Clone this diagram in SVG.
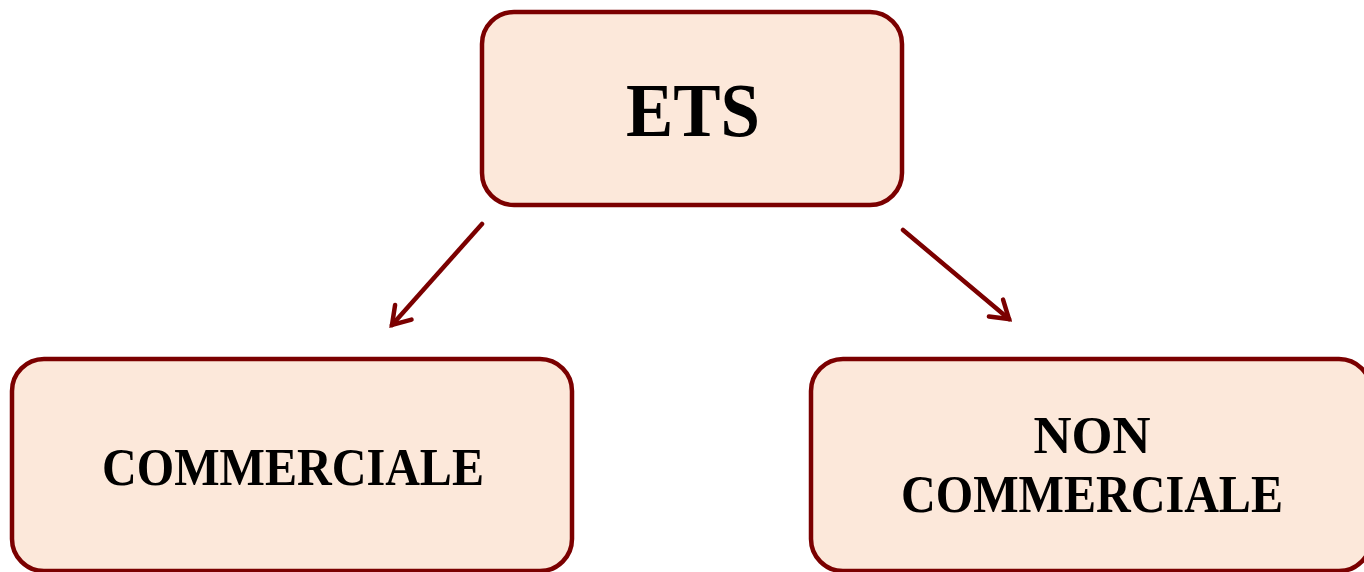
<svg xmlns="http://www.w3.org/2000/svg" width="1364" height="572" viewBox="0 0 1364 572">
<style>
.box{fill:#fce8da;stroke:#7b0000;stroke-width:4.5}
.lbl{font-family:"Liberation Serif","DejaVu Serif",serif;font-weight:bold;fill:#000;text-anchor:middle}
.conn{stroke:#7b0000;stroke-width:4.5;fill:none;stroke-linecap:round}
</style>
<defs>
<marker id="arr" markerUnits="userSpaceOnUse" viewBox="-20 -14 24 28" refX="0" refY="0" markerWidth="24" markerHeight="28" orient="auto">
<path d="M-17,-11 L0,0 L-17,11" fill="none" stroke="#7b0000" stroke-width="4.5" stroke-linecap="round" stroke-linejoin="miter"/>
</marker>
</defs>
<g id="connectors">
<line class="conn" x1="482" y1="224" x2="392" y2="325" marker-end="url(#arr)"/>
<line class="conn" x1="903" y1="230" x2="1009" y2="319" marker-end="url(#arr)"/>
</g>
<g id="node-ets">
<rect class="box" x="482" y="12" width="420" height="193" rx="32"/>
<text class="lbl" x="693" y="136" font-size="76" textLength="134" lengthAdjust="spacingAndGlyphs">ETS</text>
</g>
<g id="node-commerciale">
<rect class="box" x="12" y="359" width="560" height="212" rx="32"/>
<text class="lbl" x="293" y="485" font-size="52" textLength="382" lengthAdjust="spacingAndGlyphs">COMMERCIALE</text>
</g>
<g id="node-non-commerciale">
<rect class="box" x="811" y="359" width="560" height="212" rx="32"/>
<text class="lbl" x="1092" y="453" font-size="52" textLength="117" lengthAdjust="spacingAndGlyphs">NON</text>
<text class="lbl" x="1092" y="512" font-size="52" textLength="382" lengthAdjust="spacingAndGlyphs">COMMERCIALE</text>
</g>
</svg>
